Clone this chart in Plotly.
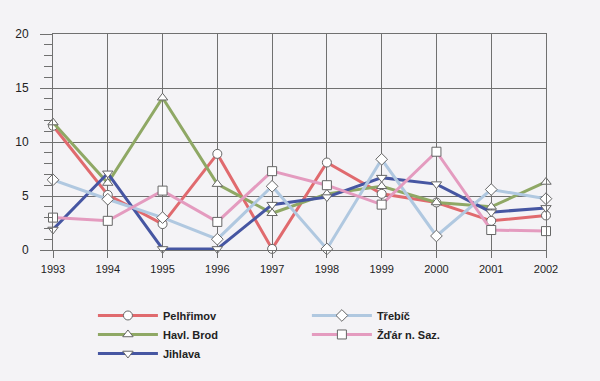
import plotly.graph_objects as go

years = [1993, 1994, 1995, 1996, 1997, 1998, 1999, 2000, 2001, 2002]
pelhrimov = [11.5, 5.1, 2.4, 8.9, 0.1, 8.1, 5.2, 4.4, 2.7, 3.2]
havl_brod = [11.8, 6.2, 14.1, 6.1, 3.4, 5.2, 5.9, 4.4, 4.0, 6.3]
jihlava = [1.9, 7.1, 0.1, 0.1, 4.2, 4.9, 6.7, 6.1, 3.5, 3.9]
trebic = [6.5, 4.7, 3.0, 1.0, 5.9, 0.1, 8.4, 1.3, 5.6, 4.75]
zdar = [3.0, 2.7, 5.5, 2.6, 7.3, 6.0, 4.2, 9.1, 1.85, 1.75]

series = [
    ("Pelhřimov", pelhrimov, "#e06a6e", "circle", "legend"),
    ("Havl. Brod", havl_brod, "#8fa865", "triangle-up", "legend"),
    ("Jihlava", jihlava, "#4656a2", "triangle-down", "legend"),
    ("Třebíč", trebic, "#b0c8e0", "diamond", "legend2"),
    ("Žďár n. Saz.", zdar, "#e49bbf", "square", "legend2"),
]

fig = go.Figure()
for name, vals, color, sym, leg in series:
    fig.add_trace(go.Scatter(
        x=years, y=vals, name=name, mode="lines+markers",
        line=dict(color=color, width=3),
        marker=dict(symbol=sym, size=9, color="white",
                    line=dict(color="#666666", width=1)),
        legend=leg, cliponaxis=False,
    ))

bg = "#f4f3f6"
grid = "#707070"
font_family = "Liberation Sans, Arial, sans-serif"
fig.update_layout(
    width=600, height=381,
    paper_bgcolor=bg, plot_bgcolor=bg,
    margin=dict(l=53, r=54, t=34, b=131),
    font=dict(family=font_family, size=11, color="#222222"),
    xaxis=dict(
        range=[1993, 2002], tickmode="array", tickvals=years,
        showgrid=True, gridcolor=grid, gridwidth=1,
        ticks="outside", ticklen=7, tickcolor=grid,
        zeroline=False, showline=True, linecolor=grid, linewidth=1, mirror=True,
        tickfont=dict(size=11, family=font_family), ticklabelstandoff=2,
    ),
    yaxis=dict(
        range=[0, 20], tickmode="array", tickvals=[0, 5, 10, 15, 20],
        showgrid=True, gridcolor=grid, gridwidth=1,
        ticks="outside", ticklen=12, tickcolor=grid,
        minor=dict(dtick=1, ticks="outside", ticklen=8, tickcolor=grid, showgrid=False),
        zeroline=False, showline=True, linecolor=grid, linewidth=1, mirror=True,
        tickfont=dict(size=12, family=font_family), ticklabelstandoff=9,
    ),
    legend=dict(
        x=0.081, y=-0.236, xanchor="left", yanchor="top",
        bgcolor="rgba(0,0,0,0)", orientation="v",
        font=dict(size=11, family=font_family, weight="bold"),
        itemwidth=60, tracegroupgap=0,
    ),
    legend2=dict(
        x=0.515, y=-0.236, xanchor="left", yanchor="top",
        bgcolor="rgba(0,0,0,0)", orientation="v",
        font=dict(size=11, family=font_family, weight="bold"),
        itemwidth=60, tracegroupgap=0,
    ),
)

fig.write_html(
    "out.html",
    config={"displayModeBar": False},
    post_script="document.body.style.margin='0';document.body.style.background='#f4f3f6';",
)
